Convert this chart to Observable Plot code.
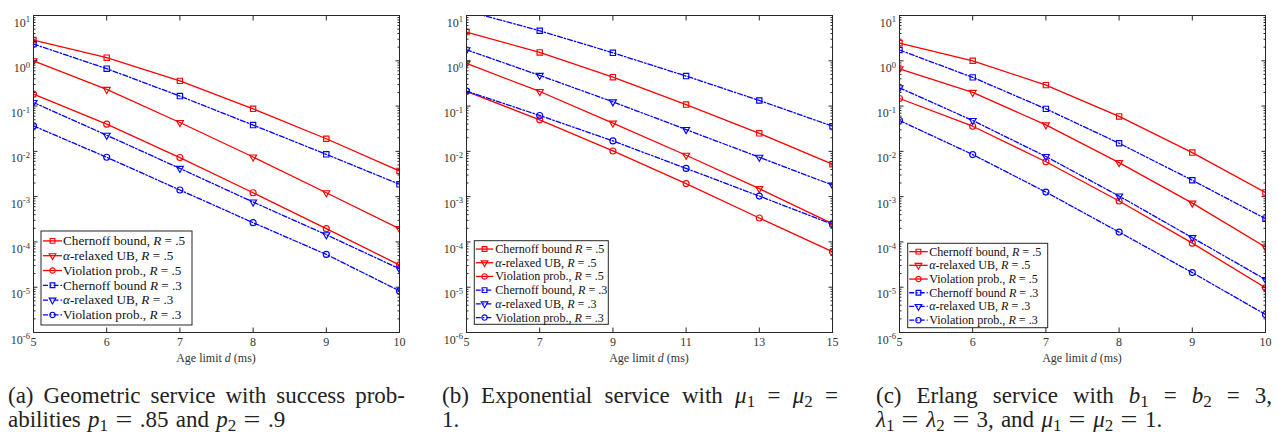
<!DOCTYPE html>
<html>
<head>
<meta charset="utf-8">
<script src="https://cdn.jsdelivr.net/npm/d3@7"></script>
<script src="https://cdn.jsdelivr.net/npm/@observablehq/plot@0.6"></script>
<style>
  html, body { margin: 0; padding: 0; background: #fff; }
  body { width: 1278px; height: 433px; overflow: hidden; font-family: "Liberation Serif", "Times New Roman", serif; }
  #root { position: relative; width: 1278px; height: 433px; }
  .panel { position: absolute; top: 0; width: 433px; }
  .panel svg, .panel svg text { font-family: "Liberation Serif", "Times New Roman", serif; }
  .cap { position: absolute; font-size: 23px; line-height: 23.5px; color: #222; font-family: "Liberation Serif", "Times New Roman", serif; }
  .cap .l1 { white-space: nowrap; text-align: justify; text-align-last: justify; }
  .cap .l2 { white-space: nowrap; text-align: left; word-spacing: 1.5px; }
  .cap i { font-style: italic; }
  .cap sub { font-size: 0.74em; vertical-align: -0.22em; line-height: 0; }
  .cap .eq { display: inline-block; width: 0.78em; text-align: center; margin: 0 0.3em; transform: scaleX(1.3); }
</style>
</head>
<body>
<div id="root"></div>
<script>
// ---------- data ----------
const xA = [5, 6, 7, 8, 9, 10];
const xB = [5, 7, 9, 11, 13, 15];
const xC = [5, 6, 7, 8, 9, 10];
const xTicksA = [5, 6, 7, 8, 9, 10];
const xTicksB = [5, 7, 9, 11, 13, 15];
const xTicksC = [5, 6, 7, 8, 9, 10];
const yMajorTicks = [1e-6, 1e-5, 1e-4, 1e-3, 1e-2, 1e-1, 1e0, 1e1];
const yMinorTicks = [];
for (let e = -6; e < 1; e++) for (let m = 2; m <= 9; m++) yMinorTicks.push(m * Math.pow(10, e));

// (a) Geometric service
const aChernoffR5  = [2.87, 1.17, 0.36, 0.087, 0.019, 0.0037];
const aRelaxedR5   = [1.0, 0.233, 0.0434, 0.0075, 0.00122, 1.96e-4];
const aViolationR5 = [0.183, 0.0398, 0.0073, 0.00122, 1.96e-4, 3.1e-5];
const aChernoffR3  = [2.34, 0.67, 0.166, 0.038, 0.0086, 0.00187];
const aRelaxedR3   = [0.12, 0.0227, 0.0042, 7.6e-4, 1.44e-4, 2.55e-5];
const aViolationR3 = [0.0365, 0.0074, 0.0014, 2.66e-4, 5.3e-5, 8.3e-6];
// (b) Exponential service
const bChernoffR5  = [4.3, 1.53, 0.435, 0.108, 0.025, 0.0052];
const bRelaxedR5   = [0.875, 0.21, 0.042, 0.0082, 0.0015, 2.53e-4];
const bViolationR5 = [0.212, 0.0496, 0.0102, 0.00194, 3.37e-4, 6.1e-5];
const bChernoffR3  = [12.7, 4.6, 1.5, 0.46, 0.133, 0.036];
const bRelaxedR3   = [1.75, 0.475, 0.124, 0.0303, 0.0074, 0.0018];
const bViolationR3 = [0.214, 0.062, 0.017, 0.0042, 0.00103, 2.44e-4];
// (c) Erlang service
const cChernoffR5  = [2.46, 1.0, 0.29, 0.059, 0.0094, 0.00124];
const cRelaxedR5   = [0.665, 0.2, 0.0384, 0.00565, 7.2e-4, 7.7e-5];
const cViolationR5 = [0.147, 0.0359, 0.0059, 8.0e-4, 9.4e-5, 9.7e-6];
const cChernoffR3  = [1.73, 0.43, 0.0867, 0.0151, 0.0023, 3.26e-4];
const cRelaxedR3   = [0.253, 0.048, 0.0077, 0.00103, 1.24e-4, 1.48e-5];
const cViolationR3 = [0.048, 0.0085, 0.00126, 1.65e-4, 2.1e-5, 2.5e-6];

const legendA = ["Chernoff bound, R = .5", "α-relaxed UB, R = .5", "Violation prob., R = .5",
                 "Chernoff bound R = .3", "α-relaxed UB, R = .3", "Violation prob., R = .3"];
const legendB = ["Chernoff bound R = .5", "α-relaxed UB, R = .5", "Violation prob., R = .5",
                 "Chernoff bound, R = .3", "α-relaxed UB, R = .3", "Violation prob., R = .3"];
const legendC = ["Chernoff bound, R = .5", "α-relaxed UB, R = .5", "Violation prob., R = .5",
                 "Chernoff bound R = .3", "α-relaxed UB, R = .3", "Violation prob., R = .3"];

const xLabelText = ["Age limit ", "d", " (ms)"];

// ---------- styles ----------
const SERIF = '"Liberation Serif", "Times New Roman", serif';
const RED = "#ff0000", BLUE = "#0000ff";
const DASHDOT = "5,2,1.5,2";
const styles = [
  {color: RED,  dash: null,    symbol: "square",   rotate: 0,   r: 3.0},
  {color: RED,  dash: null,    symbol: "triangle", rotate: 180, r: 2.6},
  {color: RED,  dash: null,    symbol: "circle",   rotate: 0,   r: 3.0},
  {color: BLUE, dash: DASHDOT, symbol: "square",   rotate: 0,   r: 3.0},
  {color: BLUE, dash: DASHDOT, symbol: "triangle", rotate: 180, r: 2.6},
  {color: BLUE, dash: DASHDOT, symbol: "circle",   rotate: 0,   r: 3.0}
];

const W = 433, H = 368, ML = 33, MR = 34, MT = 15, MB = 36;
const AXIS = "#262626", TEXT = "#333", FS = 12;

function appendRich(textSel, str) {
  str.split(/(α|R)/).forEach(tok => {
    if (tok === "") return;
    const t = textSel.append("tspan").text(tok);
    if (tok === "α" || tok === "R") t.attr("font-style", "italic");
  });
}

function makePanel(xs, xTicks, series, labels, leg) {
  const marks = [];
  series.forEach((vals, k) => {
    const st = styles[k];
    const data = xs.map((x, i) => ({x, y: vals[i]}));
    marks.push(Plot.line(data, {x: "x", y: "y", stroke: st.color, strokeWidth: 1.3,
      strokeDasharray: st.dash || undefined, clip: true}));
    marks.push(Plot.dot(data, {x: "x", y: "y", stroke: st.color, fill: "none", symbol: st.symbol,
      rotate: st.rotate, r: st.r, strokeWidth: 1.15, clip: true}));
  });
  const common = {label: null, stroke: AXIS, fill: TEXT, fontSize: FS};
  marks.push(
    Plot.axisY({...common, anchor: "left", ticks: yMajorTicks, tickSize: -4.5, tickPadding: 8,
      tickFormat: d => String(Math.round(Math.log10(d)))}),
    Plot.axisY({...common, anchor: "right", ticks: yMajorTicks, tickSize: -4.5, tickFormat: () => ""}),
    Plot.axisY({...common, anchor: "left", ticks: yMinorTicks, tickSize: -2.5, tickFormat: () => ""}),
    Plot.axisY({...common, anchor: "right", ticks: yMinorTicks, tickSize: -2.5, tickFormat: () => ""}),
    Plot.axisX({...common, anchor: "bottom", ticks: xTicks, tickSize: -4.5, tickPadding: 9, tickFormat: d => String(d)}),
    Plot.axisX({...common, anchor: "top", ticks: xTicks, tickSize: -4.5, tickFormat: () => ""}),
    Plot.frame({stroke: AXIS, strokeWidth: 1})
  );
  const svg = Plot.plot({
    width: W, height: H, marginLeft: ML, marginRight: MR, marginTop: MT, marginBottom: MB,
    style: {fontFamily: SERIF, fontSize: FS + "px", color: TEXT, background: "#fff"},
    x: {domain: [xTicks[0], xTicks[xTicks.length - 1]], label: null},
    y: {type: "log", domain: [1e-6, 1e1], label: null},
    marks
  });
  // superscript y tick labels
  svg.querySelectorAll('[aria-label="y-axis tick label"] text').forEach(t => {
    const e = t.textContent.trim();
    if (e === "") return;
    t.textContent = "";
    t.setAttribute("dy", "0.6em");
    const s = d3.select(t);
    s.append("tspan").text("10");
    s.append("tspan").attr("dy", "-0.5em").attr("font-size", "0.72em").text(e);
  });
  const xs2 = svg.scale("x").range;
  const ys2 = svg.scale("y").range;
  const root = d3.select(svg);
  // x axis label with italic d
  const xl = root.append("text").attr("x", (xs2[0] + xs2[1]) / 2).attr("y", ys2[0] + 29.5)
    .attr("text-anchor", "middle").attr("fill", TEXT).attr("font-size", FS).attr("font-family", SERIF);
  xLabelText.forEach(tok => {
    const t = xl.append("tspan").text(tok);
    if (tok === "d") t.attr("font-style", "italic");
  });
  // legend
  const g = root.append("g").attr("text-anchor", "start").attr("font-family", SERIF);
  g.append("rect").attr("x", leg.x).attr("y", leg.y).attr("width", leg.w).attr("height", leg.h)
    .attr("fill", "#fff").attr("stroke", AXIS).attr("stroke-width", 1);
  labels.forEach((lab, k) => {
    const st = styles[k];
    const cy = leg.y + leg.pad + leg.rowH * (k + 0.5);
    g.append("line").attr("x1", leg.x + leg.l1).attr("x2", leg.x + leg.l2).attr("y1", cy).attr("y2", cy)
      .attr("stroke", st.color).attr("stroke-width", 1.3).attr("stroke-dasharray", st.dash);
    const type = st.symbol === "square" ? d3.symbolSquare : st.symbol === "triangle" ? d3.symbolTriangle : d3.symbolCircle;
    g.append("path").attr("d", d3.symbol(type, Math.PI * st.r * st.r * (st.symbol === "triangle" ? 0.9 : 0.8))())
      .attr("transform", `translate(${leg.x + (leg.l1 + leg.l2) / 2},${cy}) rotate(${st.rotate})`)
      .attr("fill", "none").attr("stroke", st.color).attr("stroke-width", 1.15);
    const tx = g.append("text").attr("x", leg.x + leg.tx).attr("y", cy).attr("dy", "0.33em")
      .attr("text-anchor", "start").attr("fill", "#111").attr("font-size", leg.fs);
    appendRich(tx, lab);
  });
  return svg;
}

const panels = [
  {left: 0,   xs: xA, ticks: xTicksA, series: [aChernoffR5, aRelaxedR5, aViolationR5, aChernoffR3, aRelaxedR3, aViolationR3],
   labels: legendA, leg: {x: 41, y: 231, w: 151, h: 94, pad: 2.5, rowH: 14.8, l1: 2, l2: 21, tx: 22, fs: 13.2}},
  {left: 433, xs: xB, ticks: xTicksB, series: [bChernoffR5, bRelaxedR5, bViolationR5, bChernoffR3, bRelaxedR3, bViolationR3],
   labels: legendB, leg: {x: 41.3, y: 240.7, w: 134, h: 83.6, pad: 1.5, rowH: 13.7, l1: 1.5, l2: 19, tx: 21, fs: 12.1}},
  {left: 866, xs: xC, ticks: xTicksC, series: [cChernoffR5, cRelaxedR5, cViolationR5, cChernoffR3, cRelaxedR3, cViolationR3],
   labels: legendC, leg: {x: 41.7, y: 243.3, w: 140, h: 84.4, pad: 1.5, rowH: 13.7, l1: 1.5, l2: 20, tx: 21.5, fs: 12.1}}
];

const rootDiv = document.getElementById("root");
panels.forEach(p => {
  const div = document.createElement("div");
  div.className = "panel";
  div.style.left = p.left + "px";
  div.appendChild(makePanel(p.xs, p.ticks, p.series, p.labels, p.leg));
  rootDiv.appendChild(div);
});

// captions
const EQ = '<span class="eq">=</span>';
const captions = [
  {left: 8,   width: 397, l1: "(a) Geometric service with success prob-",
   l2: `abilities <i>p</i><sub>1</sub>${EQ}.85 and <i>p</i><sub>2</sub>${EQ}.9`},
  {left: 442, width: 396, l1: `(b) Exponential service with <i>μ</i><sub>1</sub> = <i>μ</i><sub>2</sub> =`,
   l2: "1."},
  {left: 876, width: 396, l1: `(c) Erlang service with <i>b</i><sub>1</sub> = <i>b</i><sub>2</sub> = 3,`,
   l2: `<i>λ</i><sub>1</sub>${EQ}<i>λ</i><sub>2</sub>${EQ}3, and <i>μ</i><sub>1</sub>${EQ}<i>μ</i><sub>2</sub>${EQ}1.`}
];
captions.forEach(c => {
  const d = document.createElement("div");
  d.className = "cap";
  d.style.left = c.left + "px";
  d.style.top = "384px";
  d.style.width = c.width + "px";
  d.innerHTML = `<div class="l1">${c.l1}</div><div class="l2">${c.l2}</div>`;
  rootDiv.appendChild(d);
});
</script>
</body>
</html>
